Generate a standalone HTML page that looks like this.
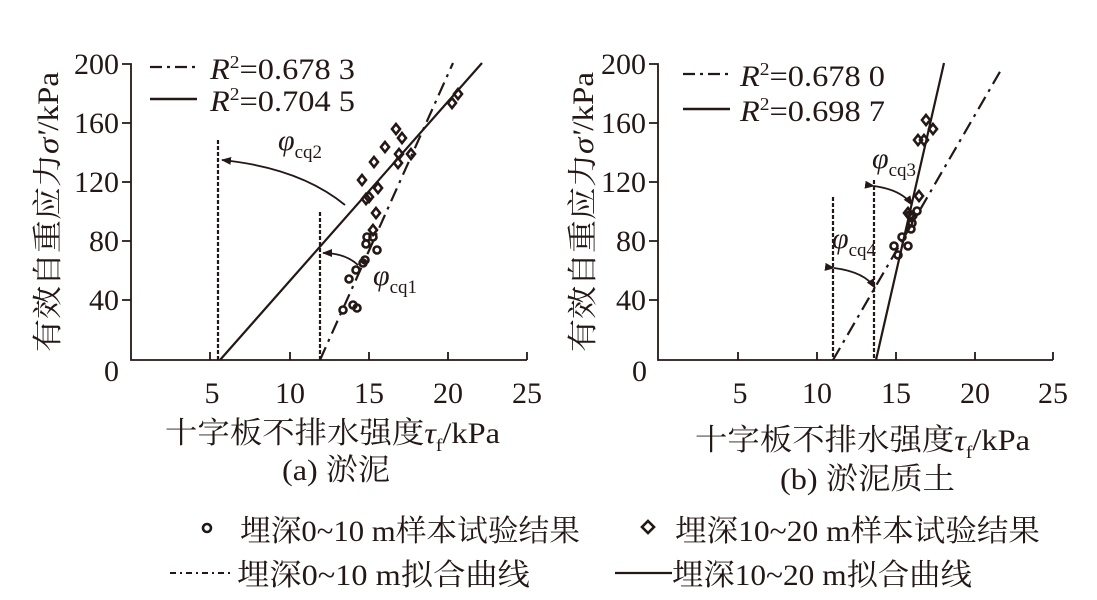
<!DOCTYPE html>
<html><head><meta charset="utf-8"><style>
body{margin:0;background:#fff}
svg{display:block}
text{font-family:"Liberation Serif","Noto Serif CJK SC",serif;fill:#231815}
</style></head><body>
<svg width="1097" height="600" viewBox="0 0 1097 600" xmlns="http://www.w3.org/2000/svg">
<defs><marker id="ar" markerWidth="10" markerHeight="8" refX="9" refY="4" orient="auto" markerUnits="userSpaceOnUse"><path d="M0,0 L10,4 L0,8 Z" fill="#231815"/></marker></defs>
<g stroke="#231815" fill="none" stroke-width="1.8">
<path d="M122,64 H131 V360 H527"/>
<path d="M122,123H131M122,182H131M122,241H131M122,300H131"/>
<path d="M210,360V352M290,360V352M369,360V352M448,360V352M527,360V352"/>
<path d="M649,64 H658 V360 H1053"/>
<path d="M649,123H658M649,182H658M649,241H658M649,300H658"/>
<path d="M738,360V352M817,360V352M896,360V352M975,360V352M1053,360V352"/>
<path d="M220,360 L482,63" stroke-width="2.2"/>
<path d="M320,360 L453,63" stroke-dasharray="14,6,3,6" stroke-width="2.2"/>
<path d="M218,140V360M320,212V360" stroke-dasharray="4,2" stroke-width="2.2"/>
<path d="M345,205 Q300,168 222,160" marker-end="url(#ar)"/>
<path d="M358,265 Q345,253 323,253" marker-end="url(#ar)"/>
<path d="M876,360 L944,63" stroke-width="2.2"/>
<path d="M833,360 L1001,70" stroke-dasharray="14,6,3,6" stroke-width="2.2"/>
<path d="M833,197V360M874,180V360" stroke-dasharray="4,2" stroke-width="2.2"/>
<path d="M874,186 Q902,190 912,205" marker-start="url(#ar)" marker-end="url(#ar)"/>
<path d="M834,268 Q865,272 875,288" marker-start="url(#ar)" marker-end="url(#ar)"/>
<path d="M150,67H195" stroke-dasharray="12,5,3,5" stroke-width="2.2"/>
<path d="M150,99H197" stroke-width="2.4"/>
<path d="M683,74H730" stroke-dasharray="12,5,3,5" stroke-width="2.2"/>
<path d="M683,109H730" stroke-width="2.4"/>
<circle cx="207" cy="528" r="4" stroke-width="2.6"/>
<path d="M648,521 L654,527 L648,533 L642,527 Z" stroke-width="2.6"/>
<path d="M170,573H232" stroke-dasharray="6,4,2,4" stroke-width="2"/>
<path d="M615,573H672" stroke-width="2.2"/>
</g>
<g stroke="#231815" fill="none" stroke-width="2.6">
<path d="M458,89l4,5-4,5-4-5z M452,98l4,5-4,5-4-5z M396,124l4,5-4,5-4-5z M402,133l4,5-4,5-4-5z M385,142l4,5-4,5-4-5z M411,149l4,5-4,5-4-5z M399,149l4,5-4,5-4-5z M374,157l4,5-4,5-4-5z M398,158l4,5-4,5-4-5z M362,175l4,5-4,5-4-5z M369,192l4,5-4,5-4-5z M366,194l4,5-4,5-4-5z M378,183l4,5-4,5-4-5z M376,208l4,5-4,5-4-5z M373,225l4,5-4,5-4-5z"/>
<circle cx="367" cy="237" r="3.5"/><circle cx="373" cy="237" r="3.5"/><circle cx="366" cy="244" r="3.5"/><circle cx="377" cy="250" r="3.5"/><circle cx="365" cy="260" r="3.5"/><circle cx="363" cy="263" r="3.5"/><circle cx="356" cy="270" r="3.5"/><circle cx="349" cy="279" r="3.5"/><circle cx="343" cy="310" r="3.5"/><circle cx="353" cy="305" r="3.5"/><circle cx="357" cy="308" r="3.5"/>
<path d="M926,115l4,5-4,5-4-5z M933,124l4,5-4,5-4-5z M918,135l4,5-4,5-4-5z M924,135l4,5-4,5-4-5z M919,191l4,5-4,5-4-5z M908,208l4,5-4,5-4-5z M912,212l4,5-4,5-4-5z"/>
<circle cx="917" cy="211" r="3.5"/><circle cx="912" cy="223" r="3.5"/><circle cx="911" cy="229" r="3.5"/><circle cx="902" cy="237" r="3.5"/><circle cx="894" cy="246" r="3.5"/><circle cx="908" cy="246" r="3.5"/><circle cx="898" cy="255" r="3.5"/><circle cx="910" cy="215" r="3.5"/>
</g>
<g font-size="30">
<g text-anchor="end"><text x="119" y="74">200</text><text x="119" y="133">160</text><text x="119" y="192">120</text><text x="119" y="251">80</text><text x="119" y="310">40</text></g>
<text x="104" y="381">0</text>
<g text-anchor="middle"><text x="212" y="403">5</text><text x="290" y="403">10</text><text x="369" y="403">15</text><text x="448" y="403">20</text><text x="527" y="403">25</text></g>
<g text-anchor="end"><text x="646" y="74">200</text><text x="646" y="133">160</text><text x="646" y="192">120</text><text x="646" y="251">80</text><text x="646" y="310">40</text></g>
<text x="632" y="381">0</text>
<g text-anchor="middle"><text x="740" y="403">5</text><text x="817" y="403">10</text><text x="896" y="403">15</text><text x="975" y="403">20</text><text x="1053" y="403">25</text></g>
<text x="210" y="79" textLength="145" lengthAdjust="spacingAndGlyphs"><tspan font-style="italic">R</tspan><tspan font-size="18" dy="-11">2</tspan><tspan dy="11">=0.678 3</tspan></text>
<text x="210" y="111" textLength="145" lengthAdjust="spacingAndGlyphs"><tspan font-style="italic">R</tspan><tspan font-size="18" dy="-11">2</tspan><tspan dy="11">=0.704 5</tspan></text>
<text x="740" y="86" textLength="145" lengthAdjust="spacingAndGlyphs"><tspan font-style="italic">R</tspan><tspan font-size="18" dy="-11">2</tspan><tspan dy="11">=0.678 0</tspan></text>
<text x="740" y="121" textLength="145" lengthAdjust="spacingAndGlyphs"><tspan font-style="italic">R</tspan><tspan font-size="18" dy="-11">2</tspan><tspan dy="11">=0.698 7</tspan></text>
<text x="278" y="150" font-style="italic">φ<tspan font-size="19" font-style="normal" dy="8">cq2</tspan></text>
<text x="373" y="285" font-style="italic">φ<tspan font-size="19" font-style="normal" dy="8">cq1</tspan></text>
<text x="872" y="168" font-style="italic">φ<tspan font-size="19" font-style="normal" dy="8">cq3</tspan></text>
<text x="832" y="248" font-style="italic">φ<tspan font-size="19" font-style="normal" dy="8">cq4</tspan></text>
<text transform="translate(58,352) rotate(-90)" textLength="280" lengthAdjust="spacingAndGlyphs">有效自重应力<tspan font-style="italic">σ'</tspan>/kPa</text>
<text transform="translate(593,352) rotate(-90)" textLength="280" lengthAdjust="spacingAndGlyphs">有效自重应力<tspan font-style="italic">σ'</tspan>/kPa</text>
<text x="165" y="443" textLength="335" lengthAdjust="spacingAndGlyphs">十字板不排水强度<tspan font-style="italic">τ</tspan><tspan font-size="18" dy="8">f</tspan><tspan dy="-8">/kPa</tspan></text>
<text x="695" y="450" textLength="335" lengthAdjust="spacingAndGlyphs">十字板不排水强度<tspan font-style="italic">τ</tspan><tspan font-size="18" dy="8">f</tspan><tspan dy="-8">/kPa</tspan></text>
<text x="282" y="480" textLength="108" lengthAdjust="spacingAndGlyphs">(a) 淤泥</text>
<text x="780" y="489" textLength="175" lengthAdjust="spacingAndGlyphs">(b) 淤泥质土</text>
<text x="240" y="541" textLength="340" lengthAdjust="spacingAndGlyphs">埋深0~10 m样本试验结果</text>
<text x="675" y="541" textLength="365" lengthAdjust="spacingAndGlyphs">埋深10~20 m样本试验结果</text>
<text x="237" y="585" textLength="293" lengthAdjust="spacingAndGlyphs">埋深0~10 m拟合曲线</text>
<text x="672" y="585" textLength="300" lengthAdjust="spacingAndGlyphs">埋深10~20 m拟合曲线</text>
</g>
</svg>
</body></html>
